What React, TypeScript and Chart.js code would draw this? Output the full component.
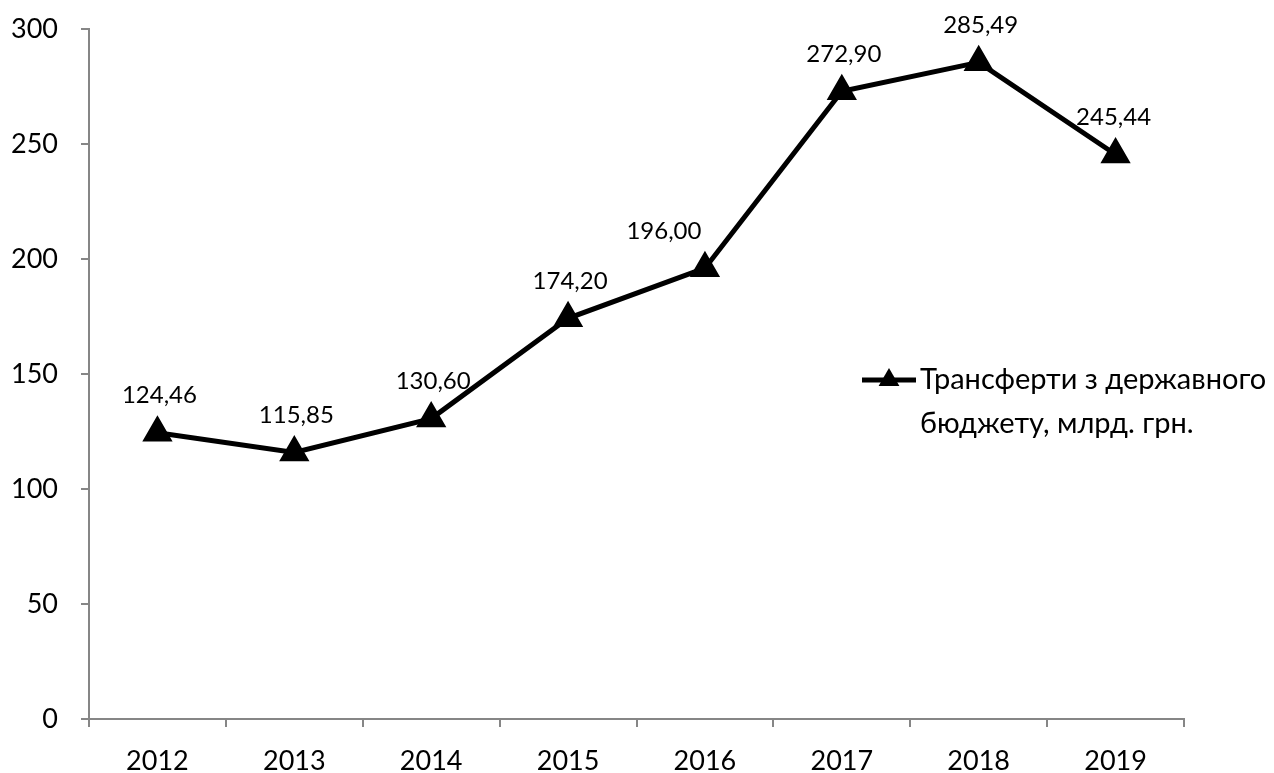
import React, { useEffect, useRef } from "react";
import { Chart, registerables } from "chart.js";

Chart.register(...registerables);

const years = ["2012", "2013", "2014", "2015", "2016", "2017", "2018", "2019"];
const transfers = [124.46, 115.85, 130.6, 174.2, 196.0, 272.9, 285.49, 245.44];
const seriesLabelLines = ["Трансферти з державного", "бюджету, млрд. грн."];
const yTicks = [0, 50, 100, 150, 200, 250, 300];

const FONT = "Lato, 'Open Sans', sans-serif";
const AXIS_COLOR = "#868686";

const fmt = (v: number) => v.toFixed(2).replace(".", ",");

const labelPlugin = {
  id: "labelsAndLegend",
  afterDatasetsDraw(chart: any) {
    const ctx = chart.ctx;
    const meta = chart.getDatasetMeta(0);
    ctx.save();
    ctx.fillStyle = "#000";
    ctx.font = `24px ${FONT}`;
    ctx.textAlign = "center";
    ctx.textBaseline = "middle";
    meta.data.forEach((pt: any, i: number) => {
      const dx = i === 4 ? -41 : i === 7 ? -2 : 2;
      ctx.fillText(fmt(transfers[i]), pt.x + dx, pt.y - 37);
    });
    // legend
    const lx = 862;
    const ly = 380;
    ctx.strokeStyle = "#000";
    ctx.lineWidth = 5;
    ctx.beginPath();
    ctx.moveTo(lx, ly);
    ctx.lineTo(lx + 54, ly);
    ctx.stroke();
    const cx = lx + 27;
    const r = 12;
    ctx.beginPath();
    ctx.moveTo(cx, ly - r);
    ctx.lineTo(cx + r * 0.866, ly + r * 0.5);
    ctx.lineTo(cx - r * 0.866, ly + r * 0.5);
    ctx.closePath();
    ctx.fill();
    ctx.font = `29px ${FONT}`;
    ctx.textAlign = "left";
    ctx.fillText(seriesLabelLines[0], lx + 58, ly);
    ctx.fillText(seriesLabelLines[1], lx + 58, ly + 44);
    ctx.restore();
  },
};

export default function App() {
  const ref = useRef<HTMLCanvasElement | null>(null);
  useEffect(() => {
    document.body.style.margin = "0";
    const chart = new Chart(ref.current!, {
      type: "line",
      data: {
        labels: years,
        datasets: [
          {
            label: seriesLabelLines.join(" "),
            data: transfers,
            borderColor: "#000",
            backgroundColor: "#000",
            borderWidth: 5,
            pointStyle: "triangle",
            pointRadius: 12.5,
            pointHoverRadius: 12.5,
            tension: 0,
            clip: false as any,
          },
        ],
      },
      options: {
        animation: false,
        responsive: false,
        layout: { padding: { top: 29, right: 90, bottom: 0, left: 0 } },
        plugins: { legend: { display: false }, tooltip: { enabled: false } },
        scales: {
          x: {
            offset: true,
            grid: {
              offset: true,
              drawOnChartArea: false,
              drawTicks: true,
              tickLength: 8,
              color: AXIS_COLOR,
              lineWidth: 2,
            },
            border: { color: AXIS_COLOR, width: 2 },
            ticks: { color: "#000", font: { family: FONT, size: 27 }, padding: 18 },
            afterFit: (s: any) => {
              s.height = 54;
              s.paddingLeft = 0;
              s.paddingRight = 0;
            },
          },
          y: {
            min: 0,
            max: 300,
            afterBuildTicks: (s: any) => {
              s.ticks = yTicks.map((v) => ({ value: v }));
            },
            grid: {
              drawOnChartArea: false,
              drawTicks: true,
              tickLength: 8,
              color: AXIS_COLOR,
              lineWidth: 2,
            },
            border: { color: AXIS_COLOR, width: 2 },
            ticks: { color: "#000", font: { family: FONT, size: 27 }, padding: 23 },
            afterFit: (s: any) => {
              s.width = 89;
              s.paddingTop = 0;
              s.paddingBottom = 0;
            },
          },
        },
      },
      plugins: [labelPlugin],
    });
    return () => chart.destroy();
  }, []);
  return (
    <div style={{ position: "fixed", left: 0, top: 0, width: 1274, height: 773, background: "#fff" }}>
      <canvas ref={ref} width={1274} height={773} style={{ display: "block" }} />
    </div>
  );
}
